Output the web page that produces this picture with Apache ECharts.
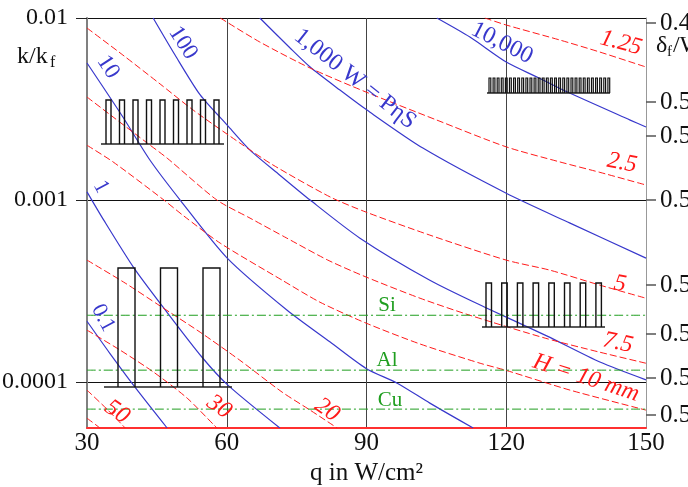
<!DOCTYPE html>
<html><head><meta charset="utf-8">
<script src="https://cdn.jsdelivr.net/npm/echarts@6/dist/echarts.min.js"></script>
<style>html,body{margin:0;padding:0;background:#fff}#c{width:688px;height:487px}</style>
</head><body><div id="c"></div>
<script>
// ---------- axes ----------
const qMin = 30, qMax = 150, qStep = 30;
const kMin = 5.6e-5, kMax = 0.01;
const leftTickValues = [0.0001, 0.001, 0.01];
const leftTickLabels = ['0.0001', '0.001', '0.01'];
const rightTickValues = [0.00939, 0.003455, 0.002249, 0.001, 0.000341, 0.0001836, 0.0001052, 0.0000659];
const rightTickLabels = ['0.4', '0.5', '0.5', '0.5', '0.5', '0.5', '0.5', '0.5'];

// ---------- W = P·η·S curves (blue) ----------
const W01_q = [30, 34.9, 40.3, 47.2];
const W01_k = [2.16e-4, 1.44e-4, 9.39e-5, 5.6e-5];
const W1_q = [30, 33.6, 40.1, 46.5, 54.7, 60.3, 71.4];
const W1_k = [1.11e-3, 7.76e-4, 4.23e-4, 2.55e-4, 1.37e-4, 9.6e-5, 5.6e-5];
const W10_q = [30, 37.7, 43.5, 50.0, 60.1, 72.9, 82.2, 89.9, 96.6, 103.6, 112.9];
const W10_k = [5.66e-3, 2.86e-3, 1.66e-3, 1.0e-3, 4.80e-4, 2.49e-4, 1.66e-4, 1.19e-4, 9.87e-5, 7.67e-5, 5.6e-5];
const W100_q = [44.2, 48.9, 54.3, 60.1, 65.0, 71.4, 77.9, 88.6, 103.6, 115.4, 128.8, 140.1, 150];
const W100_k = [0.01, 6.26e-3, 3.78e-3, 2.58e-3, 1.88e-3, 1.37e-3, 1.0e-3, 6.18e-4, 3.63e-4, 2.58e-4, 1.79e-4, 1.29e-4, 1.03e-4];
const W1000_q = [67.1, 73.6, 77.9, 84.3, 90.1, 102.1, 120.0, 133.7, 150];
const W1000_k = [0.01, 6.84e-3, 5.38e-3, 4.02e-3, 3.12e-3, 1.93e-3, 1.09e-3, 7.47e-4, 4.80e-4];
const W10000_q = [105.1, 112.2, 120.0, 126.6, 132.2, 146.6, 150];
const W10000_k = [0.01, 7.86e-3, 5.73e-3, 4.74e-3, 4.02e-3, 2.75e-3, 2.52e-3];

// ---------- fin height H curves (red dashed) ----------
const H125_q = [115.4, 120.0, 131.5, 140.1, 150];
const H125_k = [0.01, 9.15e-3, 7.57e-3, 6.50e-3, 5.38e-3];
const H25_q = [58.6, 67.1, 77.9, 89.9, 105.1, 120.0, 131.5, 140.1, 150];
const H25_k = [0.01, 7.38e-3, 5.31e-3, 3.92e-3, 2.75e-3, 1.96e-3, 1.62e-3, 1.42e-3, 1.21e-3];
const H5_q = [30, 37.7, 45.7, 52.8, 62.8, 69.9, 82.2, 89.9, 103.6, 120.0, 129.4, 140.1, 150];
const H5_k = [8.81e-3, 6.26e-3, 4.34e-3, 3.12e-3, 2.06e-3, 1.56e-3, 1.04e-3, 8.59e-4, 6.42e-4, 4.68e-4, 4.12e-4, 3.41e-4, 2.89e-4];
const H75_q = [30, 35.6, 42.9, 47.2, 57.9, 65.0, 72.9, 81.7, 89.9, 101.5, 112.2, 128.5, 140.1, 150];
const H75_k = [3.68e-3, 2.86e-3, 2.06e-3, 1.70e-3, 1.0e-3, 7.96e-4, 6.18e-4, 4.68e-4, 3.78e-4, 2.89e-4, 2.33e-4, 1.74e-4, 1.46e-4, 1.27e-4];
const H10_q = [30, 35.6, 46.3, 50.8, 58.6, 71.9, 80.0, 89.9, 101.5, 114.4, 120.0, 133.7, 150];
const H10_k = [2.0e-3, 1.62e-3, 1.01e-3, 8.17e-4, 5.80e-4, 3.63e-4, 2.75e-4, 2.11e-4, 1.62e-4, 1.27e-4, 1.16e-4, 9.04e-5, 7.02e-5];
const H20_q = [30, 38.2, 45.7, 54.3, 62.8, 71.9, 77.9, 83.7];
const H20_k = [4.68e-4, 3.50e-4, 2.62e-4, 1.88e-4, 1.32e-4, 8.81e-5, 7.02e-5, 5.6e-5];
const H30_q = [30, 37.1, 44.4, 51.5, 57.3, 57.9];
const H30_k = [1.93e-4, 1.50e-4, 1.13e-4, 8.17e-5, 5.80e-5, 5.6e-5];
const H50_q = [30, 34.5, 38.2];
const H50_k = [9.04e-5, 7.02e-5, 5.6e-5];
const H100_q = [30, 32.8];
const H100_k = [6.34e-5, 5.6e-5];

// ---------- materials (green dash-dot) ----------
const materialNames = ['Si', 'Al', 'Cu'];
const materialK = [2.33e-4, 1.164e-4, 7.11e-5];

const FONT = '"Liberation Serif", "Times New Roman", serif';
const BLUE = '#3838cc', RED = '#ff1a1a', GREEN = '#1f9e1f';

function pairs(q, k) { return q.map((v, i) => [v, k[i]]); }
function curve(q, k, color, dash, width) {
  return { type: 'line', xAxisIndex: 0, yAxisIndex: 0, data: pairs(q, k), symbol: 'none', showSymbol: false,
    smooth: 0.25, silent: true, clip: true, z: 3, lineStyle: { color: color, width: width, type: dash } };
}
const series = [];
[[W01_q, W01_k], [W1_q, W1_k], [W10_q, W10_k], [W100_q, W100_k], [W1000_q, W1000_k], [W10000_q, W10000_k]]
  .forEach(c => series.push(curve(c[0], c[1], BLUE, 'solid', 1.2)));
[[H125_q, H125_k], [H25_q, H25_k], [H5_q, H5_k], [H75_q, H75_k], [H10_q, H10_k], [H20_q, H20_k], [H30_q, H30_k], [H50_q, H50_k], [H100_q, H100_k]]
  .forEach(c => series.push(curve(c[0], c[1], RED, [7, 3], 1)));
materialK.forEach(v => series.push(curve([qMin, qMax], [v, v], GREEN, [9, 3, 2, 3], 1)));

const lg = v => Math.log10(v);
function nearestLabel(vals, labels, v) {
  let best = 0, d = 1e9;
  vals.forEach((t, i) => { const dd = Math.abs(lg(t) - v); if (dd < d) { d = dd; best = i; } });
  return labels[best];
}

// ---------- decorations: fin sketches ----------
function finSketch(x0, x1, baseY, firstX, pitch, n, w, topY, lw) {
  const els = [{ type: 'line', shape: { x1: x0, y1: baseY, x2: x1, y2: baseY }, style: { stroke: '#222', lineWidth: 1.6 }, z: 50 }];
  for (let i = 0; i < n; i++) {
    const x = firstX + i * pitch;
    els.push({ type: 'polyline', shape: { points: [[x, baseY], [x, topY], [x + w, topY], [x + w, baseY]] },
      style: { stroke: '#111', lineWidth: lw, fill: null }, z: 50 });
  }
  return els;
}
function txt(text, x, y, deg, color, size, italic, align) {
  return { type: 'text', x: x, y: y, rotation: -deg * Math.PI / 180, z: 60,
    style: { text: text, fill: color, fontSize: size, fontFamily: FONT, fontStyle: italic ? 'italic' : 'normal',
      align: align || 'center', verticalAlign: 'middle' } };
}
const graphics = [].concat(
  finSketch(101, 224, 144, 106, 13.5, 9, 5, 100, 1.4),
  finSketch(487, 610, 93, 489, 4.1, 30, 1.8, 78, 1.2),
  finSketch(104, 232, 387, 118, 42.5, 3, 17, 268, 1.4),
  finSketch(482, 605, 327, 486, 15.7, 8, 5.5, 283, 1.4),
  [
    txt('0.1', 103, 318, 62, BLUE, 22, false),
    txt('1', 101, 187, 62, BLUE, 22, false),
    txt('10', 108, 67, 57, BLUE, 23, false),
    txt('100', 183, 43, 57, BLUE, 23, false),
    txt('1,000 W = PηS', 355, 79, 38, BLUE, 24, false),
    txt('10,000', 502, 43, 27, BLUE, 24, false),
    txt('1.25', 621, 43, 15, RED, 24, true),
    txt('2.5', 622, 163, 10, RED, 24, true),
    txt('5', 620, 284, 10, RED, 24, true),
    txt('7.5', 618, 343, 12, RED, 24, true),
    txt('H = 10 mm', 586, 378, 18, RED, 24, true),
    txt('20', 327, 410, 35, RED, 24, true),
    txt('30', 219, 407, 35, RED, 24, true),
    txt('50', 117, 412, 35, RED, 24, true),
    txt(materialNames[0], 387, 305, 0, GREEN, 21, false),
    txt(materialNames[1], 387, 360, 0, GREEN, 21, false),
    txt(materialNames[2], 390, 400, 0, GREEN, 21, false),
    txt('k/k', 17, 57, 0, '#111', 24, false, 'left'),
    txt('f', 50, 63, 0, '#111', 16, false, 'left'),
    txt('δ', 656, 46, 0, '#111', 24, false, 'left'),
    txt('f', 667, 52, 0, '#111', 15, false, 'left'),
    txt('/W', 673, 46, 0, '#111', 24, false, 'left')
  ]
);

const chart = echarts.init(document.getElementById('c'), null, { renderer: 'canvas' });
chart.setOption({
  animation: false,
  backgroundColor: '#fff',
  grid: { left: 87, right: 42, top: 18, bottom: 59, containLabel: false, outerBoundsMode: 'none' },
  xAxis: {
    type: 'value', min: qMin, max: qMax, interval: qStep,
    axisLine: { show: true, lineStyle: { color: '#ff3030', width: 2 } },
    axisTick: { show: false },
    axisLabel: { fontSize: 25, fontFamily: FONT, color: '#111', margin: 3 },
    splitLine: { show: true, lineStyle: { color: '#444', width: 1 } },
    name: 'q in W/cm²', nameLocation: 'middle', nameGap: 28,
    nameTextStyle: { fontSize: 25, fontFamily: FONT, color: '#111' }
  },
  yAxis: [
    { type: 'log', logBase: 10, min: kMin, max: kMax, show: false },
    {
      type: 'value', position: 'left', min: lg(kMin), max: lg(kMax),
      axisLine: { show: true, lineStyle: { color: '#808080', width: 2 } },
      axisTick: { show: true, inside: false, length: 11, customValues: leftTickValues.map(lg), lineStyle: { color: '#222', width: 1 } },
      axisLabel: { customValues: leftTickValues.map(lg), fontSize: 24, fontFamily: FONT, color: '#111', margin: 19,
        formatter: v => nearestLabel(leftTickValues, leftTickLabels, v) },
      splitLine: { show: true, lineStyle: { color: '#111', width: 1 } }
    },
    {
      type: 'value', position: 'right', min: lg(kMin), max: lg(kMax),
      axisLine: { show: true, lineStyle: { color: '#999', width: 1 } },
      axisTick: { show: true, inside: false, length: 10, customValues: rightTickValues.map(lg), lineStyle: { color: '#555', width: 1.5 } },
      axisLabel: { customValues: rightTickValues.map(lg), fontSize: 25, fontFamily: FONT, color: '#111', margin: 14,
        formatter: v => nearestLabel(rightTickValues, rightTickLabels, v) },
      splitLine: { show: false }
    }
  ],
  series: series,
  graphic: graphics
});
</script></body></html>
